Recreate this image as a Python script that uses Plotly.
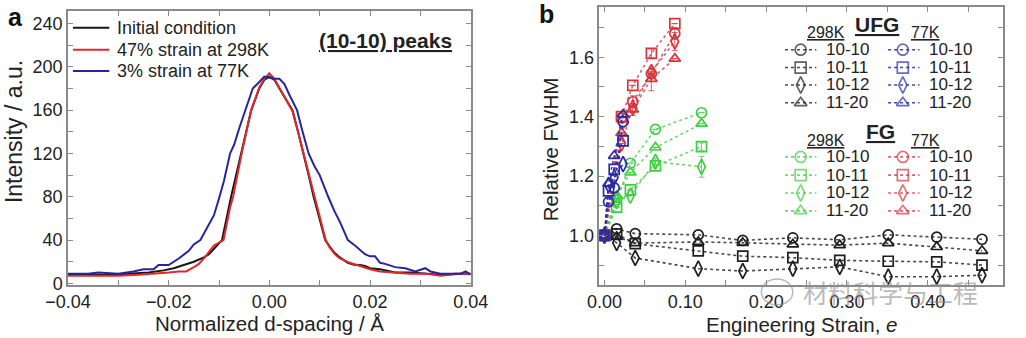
import plotly.graph_objects as go

# ---------------- panel a: (10-10) peak profiles ----------------
d_init = [-0.040, -0.036, -0.032, -0.028, -0.024, -0.021, -0.019, -0.017, -0.015, -0.013, -0.012, -0.011,
          -0.0094, -0.0076, -0.0056, -0.0036, -0.002, -0.001, 0.0, 0.001, 0.002, 0.003, 0.0046, 0.0057,
          0.0068, 0.0078, 0.0088, 0.010, 0.0111, 0.012, 0.013, 0.014, 0.0156, 0.017, 0.018, 0.019, 0.020,
          0.022, 0.025, 0.028, 0.031, 0.034, 0.037, 0.040]
i_init = [8, 8, 8, 9, 10, 12, 14, 17, 20, 24, 27, 32,
          40, 80, 120, 160, 180, 188, 191, 188, 180, 172, 160, 140,
          120, 100, 80, 58, 40, 34, 28, 24, 19, 17, 17, 16, 14,
          13, 10, 10, 9, 8, 9, 9]

d_298 = [-0.040, -0.035, -0.030, -0.026, -0.022, -0.020, -0.018, -0.0165, -0.015, -0.014, -0.013, -0.012,
         -0.011, -0.0091, -0.0078, -0.0072, -0.0055, -0.0036, -0.002, -0.001, 0.0, 0.001, 0.002, 0.003,
         0.0046, 0.0057, 0.0068, 0.0079, 0.0089, 0.010, 0.0112, 0.012, 0.013, 0.014, 0.016, 0.018, 0.020,
         0.022, 0.025, 0.028, 0.031, 0.034, 0.036, 0.038, 0.040]
i_298 = [7, 7, 7, 8, 9, 10, 11, 11, 15, 18, 23, 29,
         35, 40, 70, 80, 120, 160, 181, 189, 194, 189, 181, 172,
         159, 140, 120, 100, 80, 60, 40, 33, 27, 23, 19, 16, 13,
         11, 10, 9, 9, 7, 8, 9, 9]

d_77 = [-0.040, -0.036, -0.034, -0.030, -0.027, -0.025, -0.023, -0.022, -0.020, -0.018, -0.016, -0.015,
        -0.0137, -0.012, -0.011, -0.0099, -0.009, -0.0078, -0.007, -0.006, -0.0048, -0.004, -0.0033,
        -0.002, -0.001, 0.0, 0.001, 0.002, 0.003, 0.004, 0.0055, 0.0065, 0.0078, 0.009, 0.010, 0.0117,
        0.013, 0.014, 0.0156, 0.017, 0.018, 0.019, 0.020, 0.021, 0.022, 0.023, 0.025, 0.027, 0.029,
        0.031, 0.032, 0.034, 0.036, 0.038, 0.039, 0.040]
i_77 = [9, 9, 10, 9, 11, 13, 13, 17, 17, 23, 30, 36,
        40, 55, 63, 80, 95, 120, 128, 143, 160, 172, 180,
        186, 191, 190, 189, 189, 184, 174, 160, 142, 120, 108, 100, 80,
        66, 57, 40, 35, 31, 27, 25, 25, 19, 18, 15, 14, 11,
        14, 11, 9, 9, 9, 11, 8]

peak_names = ["Initial condition", "47% strain at 298K", "3% strain at 77K"]
peak_colors = ["#161616", "#e0282c", "#25259e"]

# ---------------- panel b: relative FWHM vs engineering strain ----------------
planes = ["10-10", "10-11", "10-12", "11-20"]

ufg298_strain = [0, 0.015, 0.038, 0.116, 0.171, 0.233, 0.291, 0.351, 0.411, 0.467]
ufg298 = {
    "10-10": [1.0, 1.022, 1.006, 1.002, 0.983, 0.992, 0.985, 1.002, 0.994, 0.987],
    "10-11": [1.0, 1.005, 0.972, 0.948, 0.930, 0.925, 0.916, 0.913, 0.911, 0.900],
    "10-12": [1.0, 0.975, 0.924, 0.888, 0.880, 0.888, 0.894, 0.861, 0.861, 0.866],
    "11-20": [1.0, 0.995, 0.974, 0.978, 0.975, 0.970, 0.967, 0.974, 0.961, 0.948],
}

ufg77_strain = [0, 0.005, 0.012, 0.023]
ufg77 = {
    "10-10": [1.0, 1.113, 1.160, 1.383],
    "10-11": [1.0, 1.150, 1.222, 1.318],
    "10-12": [1.0, 1.170, 1.195, 1.240],
    "11-20": [1.0, 1.175, 1.268, 1.407],
}

fg298_strain = [0, 0.015, 0.032, 0.063, 0.120]
fg298 = {
    "10-10": [1.0, 1.120, 1.243, 1.357, 1.413],
    "10-11": [1.0, 1.095, 1.153, 1.234, 1.299],
    "10-12": [1.0, 1.115, 1.134, 1.248, 1.231],
    "11-20": [1.0, 1.134, 1.212, 1.296, 1.376],
}
fg298_err = {
    "10-10": [0, 0, 0, 0, 0],
    "10-11": [0, 0, 0, 0, 0.012],
    "10-12": [0, 0, 0, 0.01, 0.035],
    "11-20": [0, 0, 0, 0, 0],
}

fg77_strain = [0, 0.021, 0.035, 0.058, 0.087]
fg77 = {
    "10-10": [1.0, 1.396, 1.450, 1.545, 1.680],
    "10-11": [1.0, 1.400, 1.505, 1.613, 1.713],
    "10-12": [1.0, 1.310, 1.430, 1.550, 1.653],
    "11-20": [1.0, 1.345, 1.424, 1.527, 1.595],
}
fg77_err = {
    "10-10": [0, 0, 0.02, 0, 0.02],
    "10-11": [0, 0, 0, 0.015, 0],
    "10-12": [0, 0, 0, 0, 0.03],
    "11-20": [0, 0, 0.02, 0.04, 0],
}

# ---------------- styling ----------------
FONT = "Liberation Sans, Arial, Helvetica, sans-serif"
TXT = "#222222"
AX = "#8a8a8a"

W, H = 1026, 338
ML, MR, MT, MB = 68, 6, 5, 53
PW, PH = W - ML - MR, H - MT - MB


def px_x(X):
    return (X - ML) / PW


def px_y(Y):
    return (H - MB - Y) / PH


def label(X, Y, text, size, color=TXT, xanchor="center", angle=0, **font_extra):
    """Text placed in pixel position on the page."""
    return dict(x=px_x(X), y=px_y(Y), xref="paper", yref="paper", text=text,
                xanchor=xanchor, yanchor="middle", textangle=angle, showarrow=False,
                font=dict(family=font_extra.pop("family", FONT), size=size, color=color,
                          **font_extra))


symbols = {"10-10": "circle-open", "10-11": "square-open",
           "10-12": "diamond-tall-open", "11-20": "triangle-up-open"}

groups = [
    ("UFG 298K", ufg298_strain, ufg298, None, "#1e1e1e", "rgba(40,40,40,0.85)"),
    ("FG 298K", fg298_strain, fg298, fg298_err, "#3fcf3f", "rgba(80,200,80,0.8)"),
    ("FG 77K", fg77_strain, fg77, fg77_err, "#d8343c", "rgba(210,60,70,0.8)"),
    ("UFG 77K", ufg77_strain, ufg77, None, "#2b2ba6", "rgba(45,45,170,0.9)"),
]

fig = go.Figure()
annotations = []
shapes = []

# panel a curves
for xs, ys, name, col in zip([d_init, d_298, d_77], [i_init, i_298, i_77], peak_names, peak_colors):
    fig.add_trace(go.Scatter(x=xs, y=ys, mode="lines", name=name,
                             line=dict(color=col, width=2),
                             xaxis="x", yaxis="y", showlegend=False))

# key for panel a
for name, col, ry in zip(peak_names, peak_colors, [26, 48, 69.5]):
    shapes.append(dict(type="line", xref="paper", yref="paper", x0=px_x(73), x1=px_x(110),
                       y0=px_y(ry), y1=px_y(ry), line=dict(color=col, width=2)))
    annotations.append(label(116, ry, name, 18, xanchor="left"))

# panel b series
for gname, strain, series, err, mcol, lcol in groups:
    for p in planes:
        ey = None
        if err is not None:
            ey = dict(type="data", array=err[p], visible=True, color=lcol,
                      thickness=1, width=3)
        fig.add_trace(go.Scatter(
            x=strain, y=series[p], mode="lines+markers", name=f"{gname} {p}",
            line=dict(color=lcol, width=1.6, dash="dot"),
            marker=dict(symbol=symbols[p], size=10 if p != "10-12" else 11,
                        color=mcol, line=dict(width=1.7, color=mcol)),
            error_y=ey, xaxis="x2", yaxis="y2", showlegend=False))

# key for panel b, drawn on a hidden pixel-scaled overlay axis
key_cols = {"298K": (798, 830, 814, 838, 840), "77K": (903, 935, 918, 943, 941)}
key_blocks = [
    ("UFG", 892, 23, 31, [48, 66, 83.5, 101.5], {"298K": groups[0], "77K": groups[3]}),
    ("FG", 895, 130, 139, [156, 174.3, 192.3, 210.3], {"298K": groups[1], "77K": groups[2]}),
]
for title, tx, ty, hy, rows, cols in key_blocks:
    annotations.append(dict(x=tx, y=ty, xref="x3", yref="y3", text=f"<b>{title}</b>",
                            xanchor="center", yanchor="middle", showarrow=False,
                            font=dict(family=FONT, size=21, color=TXT, lineposition="under")))
    for ck, (x0, x1, xm, xt, hx) in key_cols.items():
        annotations.append(dict(x=hx, y=hy, xref="x3", yref="y3", text=ck,
                                xanchor="center", yanchor="middle", showarrow=False,
                                font=dict(family=FONT, size=16, color=TXT, lineposition="under")))
        gname, _, _, _, mcol, lcol = cols[ck]
        for p, ry in zip(planes, rows):
            fig.add_trace(go.Scatter(
                x=[x0, xm, x1], y=[ry, ry, ry], mode="lines+markers",
                line=dict(color=lcol, width=1.6, dash="dot"),
                marker=dict(symbol=symbols[p], size=[0, 11 if p != "10-12" else 12, 0],
                            color=mcol, line=dict(width=1.7, color=mcol)),
                xaxis="x3", yaxis="y3", showlegend=False, hoverinfo="skip"))
            annotations.append(dict(x=xt, y=ry, xref="x3", yref="y3", text=p,
                                    xanchor="left", yanchor="middle", showarrow=False,
                                    font=dict(family=FONT, size=17, color=TXT)))

# panel labels, axis titles and notes
annotations += [
    label(5, 15, "<b>a</b>", 25, color="#111", xanchor="left"),
    label(546, 12, "<b>b</b>", 25, color="#111", xanchor="left"),
    label(391, 39, "<b>(10-10) peaks</b>", 21, lineposition="under"),
    label(273, 324, "Normalized d-spacing / Å", 20.5),
    label(13, 130, "Intensity / a.u.", 23, angle=-90),
    label(815, 325, "Engineering Strain, <i>e</i>", 20.5),
    label(560, 148, "Relative FWHM", 20.5, angle=-90),
    label(905, 292, "材料科学与工程", 25, color="rgba(140,140,140,0.6)",
          family="Noto Sans CJK SC"),
]

shapes.append(dict(type="circle", xref="paper", yref="paper", x0=px_x(774), x1=px_x(806),
                   y0=px_y(305), y1=px_y(279), line=dict(color="rgba(140,140,140,0.6)", width=1.5)))

axis_common = dict(showline=True, linecolor=AX, linewidth=1.5, mirror="ticks", ticks="inside",
                   ticklen=5, tickcolor=AX, tickwidth=1.2, showgrid=False, zeroline=False,
                   tickfont=dict(family=FONT, size=18, color=TXT))

dom_a = [0, px_x(478)]
dom_b = [px_x(609), 1.0]

fig.update_layout(
    width=W, height=H, margin=dict(l=ML, r=MR, t=MT, b=MB),
    paper_bgcolor="white", plot_bgcolor="white",
    font=dict(family=FONT, color=TXT),
    showlegend=False,
    xaxis=dict(domain=dom_a, range=[-0.04, 0.04], dtick=0.02, tickformat=".2f",
               minor=dict(dtick=0.01, ticks="inside", ticklen=5, tickcolor=AX),
               anchor="y", **axis_common),
    yaxis=dict(domain=[0, px_y(9)], range=[-1.5, 251.6], dtick=40,
               minor=dict(dtick=20, ticks="inside", ticklen=5, tickcolor=AX),
               anchor="x", **axis_common),
    xaxis2=dict(domain=dom_b, range=[-0.0064, 0.493], dtick=0.1, tickformat=".2f",
                minor=dict(dtick=0.05, ticks="inside", ticklen=5, tickcolor=AX),
                anchor="y2", **axis_common),
    yaxis2=dict(domain=[0, 1], range=[0.833, 1.769], dtick=0.2, tickformat=".1f",
                minor=dict(dtick=0.1, ticks="inside", ticklen=5, tickcolor=AX),
                anchor="x2", **axis_common),
    xaxis3=dict(domain=dom_b, range=[609, 1020], visible=False, anchor="y3", overlaying="x2"),
    yaxis3=dict(domain=[0, 1], range=[H - MB, MT], visible=False, anchor="x3", overlaying="y2"),
    annotations=annotations,
    shapes=shapes,
)

fig.write_html("out.html")
